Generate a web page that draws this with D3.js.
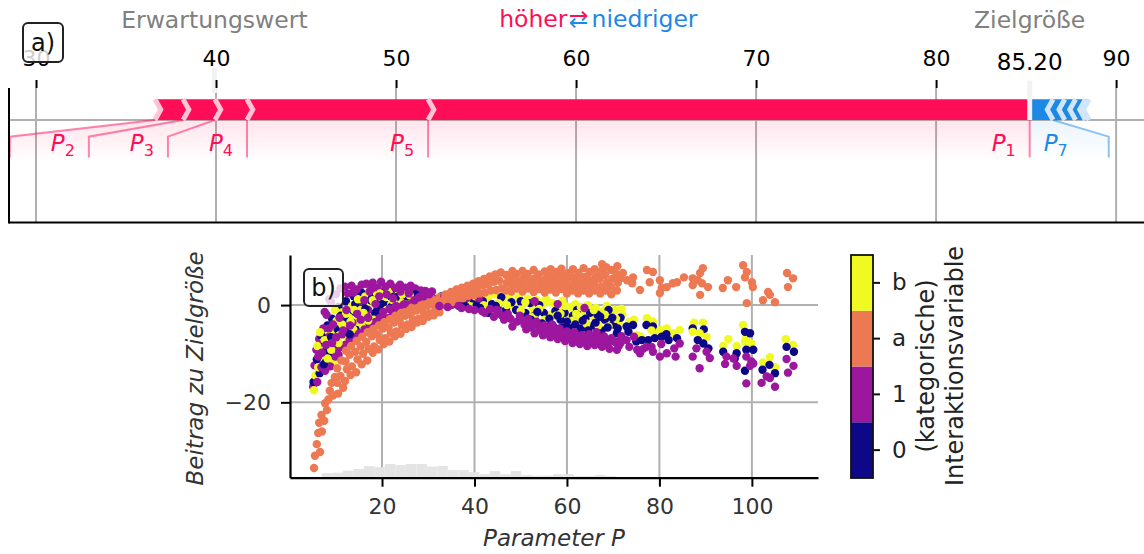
<!DOCTYPE html>
<html>
<head>
<meta charset="utf-8">
<script src="https://cdn.jsdelivr.net/npm/d3@7"></script>
<style>
body { margin: 0; background: #fff; }
svg { display: block; font-family: "DejaVu Sans", sans-serif; }
</style>
</head>
<body>
<svg></svg>
<script>

// ---------- data: panel a (force plot)
let outValue = 85.2
let baseValue = 39.91
let posNames = ['P1', 'P5', 'P4', 'P3', 'P2']
let posEffects = [33.42, 10.06, 1.78, 1.77, 1.56]
let negNames = ['P7', 'P6', 'P8', 'P9', 'P10']
let negEffects = [1.3, 0.65, 0.6, 0.55, 0.2]
let forceTicks = [30, 40, 50, 60, 70, 80, 90]

// ---------- data: panel b (dependence plot)
let depXTicks = [20, 40, 60, 80, 100]
let depYTicks = [-20, 0]
let cbCategories = ['0', '1', 'a', 'b']
let cbColors = ['#0d0887', '#9c179e', '#ed7953', '#f0f921']

let histStart = 7.0
let histStep = 2.27
let histCounts = [9, 10, 14, 17, 23, 21, 27, 25, 27, 27, 22, 23, 15, 15, 11, 7, 13, 7, 13, 5, 4, 4, 7, 7, 3, 3, 5, 3]

// category "0"
let pts0 = [
  [5.2,-15.8],[5.9,-11.2],[6.5,-14.0],[7.0,-8.0],[7.8,-11.8],[8.2,-4.2],[8.6,-10.0],[9.2,-2.8],[9.6,-8.6],[10.4,-5.0],
  [10.6,-0.4],[11.2,-8.6],[11.6,-3.4],[12.2,0.8],[12.6,-5.4],[13.2,-1.6],[13.9,1.8],[14.3,-5.0],[14.8,-0.4],[15.5,2.6],
  [16.0,-2.8],[16.6,0.0],[17.2,-3.6],[17.9,1.6],[18.5,-1.6],[19.1,0.8],[19.8,-2.0],[20.5,2.8],[21.2,0.0],[21.9,1.8],
  [22.5,-1.0],[23.2,3.0],[23.8,-0.2],[24.6,1.6],[25.2,0.2],[26.0,1.0],[26.8,2.8],[27.8,0.8],[28.8,1.8],[30.0,0.9],[30.8,2.6],
  [6.8,-6.2],[7.4,-12.2],[8.0,-9.2],[9.0,-6.6],[11.0,-2.2],[12.0,-3.0],[13.0,-6.0],[14.2,0.2],[15.2,-2.0],[16.4,-0.8],
  [17.6,1.0],[19.0,-1.0],[20.0,0.2],[22.0,-0.4],[23.0,1.6],[25.4,1.8],[27.2,2.2],[29.6,1.2],
  [32.0,0.6],[32.8,1.8],[34.0,0.4],[34.8,1.6],[36.0,0.2],[36.8,1.2],[38.0,-0.2],[39.6,1.4],[40.5,0.0],[41.8,0.8],
  [42.5,-0.8],[43.8,0.2],[45.0,-0.6],[45.8,1.6],[46.8,-1.0],[48.0,0.6],
  [33.4,0.8],[35.6,0.8],[37.6,0.6],[39.0,2.0],[41.2,-0.6],[43.0,-1.6],[44.6,-0.2],
  [49.0,-1.0],[50.0,0.8],[51.0,-1.6],[52.0,0.4],[53.0,-2.2],[54.0,0.0],[55.0,-1.6],[55.8,-3.2],[57.5,-1.2],[58.6,-3.0],
  [59.5,-1.6],[60.5,-4.4],[61.3,-2.2],[62.2,-1.0],[63.0,-4.8],[64.0,-2.8],[65.0,-1.6],[65.8,-4.2],[66.6,-2.0],[67.5,-5.2],
  [68.2,-3.0],[69.0,-1.0],[70.0,-4.0],[70.8,-5.8],[71.6,-2.6],
  [50.6,-2.6],[52.2,-3.0],[53.6,-1.4],[54.6,-3.8],[56.2,-2.8],[57.0,-4.4],[58.0,-2.2],[59.0,-4.6],[60.0,-3.4],[61.8,-4.0],
  [63.4,-3.2],[64.6,-5.2],[66.2,-3.6],[67.2,-2.4],[68.8,-4.6],[69.8,-2.6],[71.0,-4.8],
  [72.9,-4.4],[74.3,-4.1],[73.3,-5.5],[75.0,-7.5],[76.2,-7.2],[77.2,-4.1],[78.6,-4.4],[77.6,-7.2],[79.0,-6.8],[80.5,-6.5],
  [82.0,-7.2],[83.8,-6.8],[81.5,-6.0],[87.2,-4.8],[89.6,-5.0],[88.3,-7.2],[90.6,-8.9],[89.5,-7.9],[93.8,-9.6],[96.7,-9.9],
  [96.3,-11.0],[98.5,-5.5],[99.6,-5.8],[98.8,-9.2],[100.3,-9.2],[98.5,-13.5],[102.3,-13.3],[103.8,-12.3],[105.0,-14.0],
  [107.5,-8.6],[109.1,-9.6]
]

// category "1"
let pts1 = [
  [5.1,-16.8],[5.4,-12.4],[5.8,-9.2],[6.0,-15.8],[6.4,-7.0],[6.9,-12.8],[7.3,-4.8],[7.7,-13.5],[8.0,-2.0],[8.3,-6.6],
  [8.8,-12.6],[9.0,0.6],[9.4,-4.0],[9.9,-10.6],[10.0,2.2],[10.5,-9.0],[10.6,-10.2],[11.0,3.4],[11.4,-6.0],[12.0,-8.2],
  [12.0,3.8],[12.6,2.4],[13.0,-7.2],[13.4,4.0],[13.6,-3.6],[14.0,-6.6],[14.5,3.2],[15.0,-5.9],[15.0,0.8],[15.6,4.2],
  [16.2,-5.0],[16.6,4.4],[17.0,-1.0],[17.3,2.8],[17.6,-4.2],[18.0,4.6],[18.5,-3.5],[19.0,3.6],[19.5,-2.6],[19.8,4.8],
  [20.3,-0.6],[20.8,3.8],[21.0,-2.0],[21.8,4.4],[22.2,-1.2],[22.8,3.6],[23.2,-0.6],[23.9,4.2],[24.4,-0.2],[25.0,3.6],
  [25.6,0.1],[26.2,4.0],[26.5,0.4],[27.2,3.4],[27.6,0.6],[28.4,3.0],[28.6,0.6],[29.4,2.9],[29.8,0.8],[30.8,2.8],
  [31.6,1.2],[7.6,-1.4],[8.6,1.2],
  [6.2,-10.6],[7.0,-9.8],[7.9,-8.2],[8.5,-4.8],[9.2,-7.8],[10.1,-6.6],[10.8,-2.6],[11.6,-5.2],[12.3,-1.0],[13.1,-4.2],
  [13.8,2.6],[14.6,-1.8],[15.4,-3.0],[16.2,1.0],[17.0,-2.6],[17.8,3.4],[18.6,0.2],[19.4,1.8],[20.2,-1.4],[21.0,2.2],
  [21.6,-0.8],[22.4,1.4],[23.0,-0.2],[24.0,2.8],[24.8,0.2],[25.8,2.4],[27.0,1.0],[28.0,1.6],[29.0,1.8],[30.2,2.2],
  [33.5,1.8],[35.0,0.0],[36.2,1.6],[37.2,-0.6],[38.5,1.5],[40.0,-1.0],[41.0,1.4],[42.2,-1.6],[43.4,-0.8],[44.2,-2.4],
  [45.4,-1.8],[46.4,-3.0],[47.2,-1.8],[48.2,-4.4],
  [32.4,-0.2],[34.2,-0.4],[36.6,-0.2],[38.8,-0.8],[41.6,-1.2],[44.8,-1.0],[46.0,-2.2],[47.8,-2.8],
  [49.2,-3.4],[49.8,-2.2],[50.8,-4.0],[51.6,-2.8],[52.4,-4.6],[53.4,-3.4],[54.2,-5.2],[55.0,-4.2],[56.0,-5.4],[56.8,-4.0],
  [57.6,-6.0],[58.4,-4.8],[59.2,-6.4],[60.0,-5.4],[60.8,-6.8],[61.6,-5.6],[62.4,-7.0],[63.2,-6.2],[64.0,-7.6],[64.8,-6.0],
  [65.6,-7.4],[66.4,-5.6],[67.2,-7.8],[68.0,-6.4],[68.8,-8.2],[69.6,-6.8],[70.4,-7.6],[71.2,-8.4],[71.8,-6.4],
  [50.2,-3.0],[51.2,-5.0],[52.0,-3.6],[53.0,-5.8],[53.8,-4.2],[54.8,-6.2],[55.6,-4.8],[56.4,-6.6],[57.2,-5.0],[58.0,-7.0],
  [58.8,-5.6],[59.6,-7.4],[60.4,-6.0],[61.2,-7.8],[62.0,-6.2],[62.8,-8.0],[63.6,-6.8],[64.4,-8.4],[65.2,-6.6],[66.0,-8.2],
  [66.8,-6.6],[67.6,-8.6],[68.4,-7.2],[69.2,-9.0],[70.0,-7.4],[70.8,-9.2],[71.6,-7.8],
  [53.0,0.8],[58.0,0.2],[63.8,-0.6],
  [71.5,-7.2],[72.9,-7.2],[73.5,-8.6],[74.5,-6.5],[75.2,-9.2],[76.5,-9.0],[75.8,-9.9],[78.3,-8.6],[78.6,-9.6],[80.1,-10.6],
  [77.2,-8.6],[80.4,-8.0],[81.6,-9.9],[83.2,-8.9],[83.5,-10.6],[84.4,-7.9],[87.2,-10.6],[88.7,-13.0],[90.9,-10.9],[90.2,-9.6],
  [88.0,-8.9],[94.5,-10.6],[94.2,-12.1],[96.7,-12.5],[96.0,-11.0],[98.8,-10.6],[99.9,-11.6],[100.3,-12.0],[98.8,-16.1],
  [99.6,-12.5],[103.2,-14.7],[105.0,-16.8],[102.1,-16.0],[103.9,-15.0],[107.5,-11.1],[109.0,-12.5],[107.8,-13.9]
]

// category "a"
let ptsA = [
  [5.3,-33.5],[5.5,-31.0],[6.6,-30.2],[5.9,-28.6],[6.2,-26.3],[7.0,-26.0],[6.4,-24.2],[6.9,-22.6],[7.5,-23.8],[7.7,-20.2],
  [8.1,-21.6],[8.4,-19.4],[8.7,-17.6],[9.4,-18.6],[9.1,-16.0],[10.5,-18.2],[9.8,-14.8],[11.6,-17.0],[10.3,-13.0],[10.3,-16.0],
  [11.0,-14.6],[11.2,-11.4],
  [12.2,-9.4],[12.1,-11.6],[12.4,-13.2],[12.0,-15.6],
  [13.3,-8.4],[13.0,-10.2],[13.5,-12.6],[13.2,-14.4],
  [14.5,-7.4],[14.2,-9.6],[14.7,-11.2],[14.4,-13.8],
  [15.7,-6.5],[15.4,-8.5],[15.9,-10.0],[15.6,-12.2],
  [16.9,-5.6],[16.6,-7.6],[17.1,-9.0],[16.8,-11.4],
  [18.1,-4.9],[17.8,-6.4],[18.3,-8.5],[18.0,-9.8],
  [19.3,-4.2],[19.0,-6.0],[19.5,-7.2],[19.2,-9.1],
  [20.5,-3.5],[20.2,-4.8],[20.7,-6.8],[20.4,-8.0],
  [21.7,-2.9],[21.4,-4.6],[21.9,-5.7],[21.6,-7.5],
  [22.9,-2.2],[22.6,-3.6],[23.1,-5.4],[22.8,-6.4],
  [24.1,-1.6],[23.8,-3.2],[24.3,-4.2],[24.0,-5.9],
  [25.3,-1.0],[25.0,-2.2],[25.5,-4.0],[25.2,-4.9],
  [26.5,-0.5],[26.2,-2.0],[26.7,-3.0],[26.4,-4.5],
  [27.7,0.0],[27.4,-1.1],[27.9,-2.8],[27.6,-3.6],
  [28.9,0.4],[28.6,-1.0],[29.1,-1.8],[28.8,-3.3],
  [30.1,0.8],[29.8,-0.2],[30.3,-1.7],[30.0,-2.4],
  [31.3,1.0],[31.0,0.2],[31.5,-1.0],[31.2,-2.1],
  [32.5,1.6],[32.2,0.5],[32.7,-0.2],[32.4,-1.5],
  [33.7,2.2],[33.4,1.1],[33.9,0.3],
  [34.9,2.7],[34.6,1.8],[35.1,0.6],
  [36.1,3.2],[35.8,2.0],[36.3,1.3],
  [37.3,3.6],[37.0,2.6],[37.5,1.4],
  [38.5,4.0],[38.2,2.8],[38.7,1.9],
  [39.7,4.4],[39.4,3.3],[39.9,2.0],
  [40.9,4.9],[40.6,3.5],[41.1,2.4],
  [42.1,5.4],[41.8,4.1],[42.3,2.6],
  [43.3,5.9],[43.0,4.3],[43.5,3.0],
  [44.5,6.3],[44.2,4.8],[44.7,3.1],
  [45.7,6.7],[45.4,5.0],[45.9,3.4],
  [46.8,3.0],[47.0,4.6],[46.9,6.2],
  [48.0,2.8],[48.1,4.2],[47.9,5.6],[48.2,7.0],
  [49.2,3.4],[49.4,4.9],[49.1,6.4],
  [50.4,2.8],[50.3,4.2],[50.6,5.6],[50.4,7.0],
  [51.6,3.4],[51.8,4.9],[51.5,6.4],
  [52.8,2.7],[52.7,4.1],[53.0,5.5],[52.8,7.2],
  [54.0,3.3],[54.2,4.8],[53.9,6.3],
  [55.2,2.6],[55.1,4.0],[55.4,5.4],[55.2,6.9],
  [56.4,3.2],[56.6,4.6],[56.3,6.0],[56.5,7.4],
  [57.6,2.6],[57.8,4.0],[57.5,5.4],[57.7,6.8],
  [58.8,3.3],[58.7,4.7],[59.0,6.1],[58.8,7.5],
  [60.0,2.4],[60.1,3.8],[59.9,5.2],[60.2,6.6],
  [61.2,3.0],[61.4,4.4],[61.1,5.8],[61.3,7.4],
  [62.4,2.4],[62.6,3.8],[62.3,5.2],[62.5,6.6],
  [63.6,3.0],[63.5,4.4],[63.8,5.8],[63.6,7.6],
  [64.8,2.4],[65.0,3.8],[64.7,5.2],[64.9,6.8],
  [66.0,3.0],[65.9,4.4],[66.2,5.8],[66.0,7.4],
  [67.2,2.4],[67.4,3.8],[67.1,5.4],[67.3,6.8],[67.6,8.4],
  [68.4,3.0],[68.6,4.6],[68.3,6.2],[68.5,7.8],
  [69.6,2.2],[69.5,3.8],[69.8,5.4],[69.6,7.2],
  [70.8,3.0],[71.0,4.6],[70.7,6.4],[70.9,8.0],
  [71.5,5.5],[72.1,6.6],[73.0,5.1],[74.1,4.5],[74.3,5.7],[75.8,3.1],[77.3,7.2],[78.6,6.8],[77.9,4.7],[80.1,5.1],
  [80.1,2.5],[80.5,3.5],[81.6,3.7],[82.9,4.5],[83.8,4.7],[85.3,5.7],[87.2,5.5],[87.2,4.1],[88.3,5.1],[88.8,6.6],
  [89.4,7.6],[88.8,2.1],[89.2,4.5],[90.5,3.7],[93.7,3.5],[94.8,5.1],[96.6,3.7],[98.1,8.2],[98.9,6.8],[98.5,5.7],
  [100.0,4.7],[100.2,3.7],[98.9,0.4],[102.4,1.0],[103.5,2.7],[103.9,2.1],[105.0,0.6],[107.6,6.6],[108.9,5.5],[107.8,3.7]
]

// category "b"
let ptsB = [
  [5.3,-17.5],[5.6,-14.5],[6.2,-12.8],[6.8,-10.5],[7.5,-9.2],[7.2,-6.5],[8.4,-8.8],[8.9,-5.8],[9.5,-11.5],[9.8,-7.4],
  [10.2,-3.2],[10.8,-6.2],[11.3,-1.5],[11.8,-4.8],[12.4,-6.6],[12.9,-2.6],[13.5,-0.2],[13.8,-5.0],[14.6,-3.4],[15.2,-1.0],
  [15.8,-4.0],[16.4,1.8],[16.9,-2.2],[17.5,0.4],[18.2,-3.0],[18.8,2.6],[19.3,-0.8],[20.1,1.2],[20.8,-1.6],[21.5,3.1],
  [22.0,0.2],[22.7,-0.8],[23.4,2.0],[24.1,0.6],[24.9,3.2],[25.6,0.9],[26.5,2.2],[27.3,1.2],[28.4,2.4],[29.5,1.5],[31.0,1.9],
  [6.0,-8.4],[6.6,-5.6],[7.6,-7.2],[8.2,-11.0],[9.0,-9.2],[9.8,-1.0],[10.6,-7.8],[11.4,-4.0],[12.2,-1.8],[13.2,-3.4],
  [14.0,-1.0],[14.8,1.2],[16.0,-1.6],[17.0,-3.2],[18.0,1.0],[19.6,2.4],[21.0,-1.0],[22.4,1.0],[24.4,2.2],[26.0,2.0],
  [33.0,1.2],[35.5,1.6],[37.5,2.4],[39.0,0.8],[41.5,2.0],[43.0,1.4],[44.5,2.2],[46.0,0.8],[47.5,1.8],[48.5,-0.4],
  [34.0,1.8],[36.4,2.2],[38.2,1.2],[40.2,1.8],[42.0,0.0],[45.2,0.4],[47.0,0.0],
  [49.5,1.6],[50.5,0.2],[51.5,1.3],[52.5,-1.0],[53.5,1.0],[54.5,-0.2],[55.5,1.2],[56.5,-2.0],[57.0,0.4],[58.2,-0.8],
  [59.0,0.9],[60.0,-2.6],[60.8,-0.4],[61.8,0.2],[62.6,-3.0],[63.5,-1.2],[64.5,0.0],[65.4,-2.2],[66.2,-0.6],[67.0,-3.4],
  [67.8,-1.3],[68.6,-0.2],[69.5,-2.6],[70.3,-1.0],[71.2,-3.6],[72.0,-2.0],
  [50.0,-1.2],[51.0,0.6],[52.8,-2.4],[54.0,-0.8],[55.2,-3.0],[56.0,0.6],[57.6,-2.2],[58.6,-1.8],[59.6,-0.2],[61.2,-3.2],
  [62.0,-1.8],[63.0,-0.4],[64.2,-3.8],[65.8,-1.0],[66.8,-4.2],[68.2,-2.0],[69.0,-4.4],[70.6,-2.8],[71.8,-0.8],
  [73.5,-3.4],[74.5,-3.0],[75.2,-6.2],[76.0,-6.5],[77.3,-2.7],[78.6,-3.4],[79.4,-5.8],[78.3,-5.2],[80.2,-5.1],[81.6,-4.8],
  [83.0,-5.8],[84.4,-5.1],[87.5,-3.6],[89.4,-3.6],[87.2,-5.5],[88.7,-5.8],[90.2,-6.5],[93.8,-8.4],[94.9,-7.0],[96.7,-8.4],
  [98.1,-4.1],[98.8,-6.8],[99.9,-7.9],[98.5,-7.5],[102.4,-11.8],[103.9,-10.7],[105.0,-12.8],[107.3,-7.0],[108.9,-8.2]
]

// ---------- setup
let width = 1144
let height = 554
let red = '#ff0d57'
let redLight = '#ffc3d5'
let blue = '#1e88e5'
let blueLight = '#d1e6fa'
let gridColor = '#b0b0b0'

let svg = d3.select('svg').attr('width', width).attr('height', height)
let defs = svg.append('defs')

// ================= panel a =================
let xF = d3.scaleLinear().domain([28.5, 91.55]).range([9, 1144])
let yF = d3.scaleLinear().domain([-0.493, 0.154]).range([222.5, 88])
let barW = 0.1
let sepW = 0.32
let minPerc = 0.02
let offPx = 14
let padPx = 27
let totalEffect = d3.sum(posEffects) + d3.sum(negEffects)

let gA = svg.append('g')
let gGrid = gA.append('g')
let gShade = gA.append('g')
let gBars = gA.append('g')
let gLines = gA.append('g')
let gMarks = gA.append('g')
let gAxis = gA.append('g')
let gLabels = gA.append('g')

gGrid.selectAll('line').data(forceTicks).enter().append('line')
  .attr('x1', d => xF(d)).attr('x2', d => xF(d))
  .attr('y1', yF.range()[1]).attr('y2', yF.range()[0])
  .attr('stroke', gridColor).attr('stroke-width', 2)
gGrid.append('line')
  .attr('x1', xF.range()[0]).attr('x2', xF.range()[1])
  .attr('y1', yF(0)).attr('y2', yF(0))
  .attr('stroke', gridColor).attr('stroke-width', 2)

// segments
let posSegs = []
let pre = outValue
posEffects.forEach((e, i) => {
  posSegs.push({ name: posNames[i], left: pre - e, right: pre, i: i })
  pre -= e
})
let negSegs = []
pre = outValue
negEffects.forEach((e, i) => {
  negSegs.push({ name: negNames[i], left: pre, right: pre + e, i: i })
  pre += e
})

let pt = p => xF(p[0]) + ',' + yF(p[1])

let drawBars = (segs, type) => {
  let ind = type === 'pos' ? sepW : -sepW
  let colors = type === 'pos' ? [red, redLight] : [blue, blueLight]
  segs.forEach(s => {
    let l = s.left, r = s.right, poly
    if (s.i === 0) {
      poly = type === 'pos'
        ? [[l, 0], [r, 0], [r, barW], [l, barW], [l + ind, barW / 2]]
        : [[r, 0], [l, 0], [l, barW], [r, barW], [r + ind, barW / 2]]
    } else {
      poly = [[l, 0], [r, 0], [r + ind, barW / 2], [r, barW], [l, barW], [l + ind, barW / 2]]
    }
    gBars.append('polygon').attr('points', poly.map(pt).join(' ')).attr('fill', colors[0])
  })
  segs.forEach(s => {
    let sp = type === 'pos' ? s.left : s.right
    gBars.append('polyline')
      .attr('points', [[sp, 0], [sp + ind, barW / 2], [sp, barW]].map(pt).join(' '))
      .attr('fill', 'none').attr('stroke', colors[1]).attr('stroke-width', 5)
  })
}
drawBars(posSegs, 'pos')
drawBars(negSegs, 'neg')

let gradient = (id, color, op) => {
  let g = defs.append('linearGradient').attr('id', id)
    .attr('gradientUnits', 'userSpaceOnUse')
    .attr('x1', 0).attr('x2', 0).attr('y1', yF(0)).attr('y2', yF(-0.2))
  g.append('stop').attr('offset', 0).attr('stop-color', color).attr('stop-opacity', op)
  g.append('stop').attr('offset', 1).attr('stop-color', color).attr('stop-opacity', 0)
}
gradient('shadeRed', red, 0.11)
gradient('shadeBlue', blue, 0.09)

let drawLabels = (segs, type) => {
  let color = type === 'pos' ? red : blue
  let sign = type === 'pos' ? 1 : -1
  let outX = xF(outValue)
  let startText = outX
  let preVal = outValue
  let boxEnd = outX
  let lastX = outX
  let line = pts => gLines.append('polyline')
    .attr('points', pts.map(p => p[0] + ',' + p[1]).join(' '))
    .attr('fill', 'none').attr('stroke', color).attr('stroke-opacity', 0.5).attr('stroke-width', 2)
  if (type === 'pos') line([[outX, yF(0)], [outX, yF(-0.18)]])
  for (let s of segs) {
    let v = type === 'pos' ? s.left : s.right
    if (Math.abs(v - preVal) / totalEffect < minPerc) break
    let vx = xF(v)
    let t = gLabels.append('text')
      .attr('x', startText - sign * offPx).attr('y', yF(-0.15))
      .attr('text-anchor', type === 'pos' ? 'end' : 'start')
      .attr('fill', color).style('font-size', '23px')
    t.append('tspan').style('font-style', 'italic').text(s.name[0])
    t.append('tspan').attr('dy', 5).style('font-size', '16px').text(s.name.slice(1))
    let bb = t.node().getBBox()
    let boxEndT = type === 'pos' ? bb.x - padPx : bb.x + bb.width + padPx
    if (sign * boxEndT > sign * vx) {
      line([[vx, yF(0)], [vx, yF(-0.18)]])
      startText = vx
      boxEnd = vx
    } else {
      boxEnd = boxEndT - sign * offPx
      line([[vx, yF(0)], [boxEnd, yF(-0.08)], [boxEnd, yF(-0.18)]])
      startText = boxEnd
    }
    preVal = v
    lastX = vx
  }
  let path = [[outX, yF(0)], [lastX, yF(0)], [boxEnd, yF(-0.08)], [boxEnd, yF(-0.2)], [outX, yF(-0.2)]]
  gShade.append('polygon').attr('points', path.map(p => p[0] + ',' + p[1]).join(' '))
    .attr('fill', type === 'pos' ? 'url(#shadeRed)' : 'url(#shadeBlue)')
}
drawLabels(posSegs, 'pos')
drawLabels(negSegs, 'neg')

// base value and output markers
gMarks.append('line')
  .attr('x1', xF(baseValue)).attr('x2', xF(baseValue))
  .attr('y1', yF(0.13)).attr('y2', yF(0.25))
  .attr('stroke', '#f2f2f2').attr('stroke-width', 5)
gMarks.append('line')
  .attr('x1', xF(outValue)).attr('x2', xF(outValue))
  .attr('y1', yF(0)).attr('y2', yF(0.24))
  .attr('stroke', '#f2f2f2').attr('stroke-width', 5)

// top axis
let axisTop = d3.axisTop(xF).tickValues(forceTicks).tickSize(8).tickPadding(14).tickSizeOuter(0).tickFormat(d3.format('d'))
gAxis.attr('transform', 'translate(0,' + yF.range()[1] + ')').call(axisTop)
gAxis.select('.domain').remove()
gAxis.selectAll('line').attr('stroke', '#000').attr('stroke-width', 2)
gAxis.selectAll('text').attr('fill', '#000').style('font-size', '22px').style('font-family', '"DejaVu Sans", sans-serif')

// spines
gA.append('line').attr('x1', xF.range()[0]).attr('x2', xF.range()[0])
  .attr('y1', yF.range()[1]).attr('y2', yF.range()[0] + 1)
  .attr('stroke', '#000').attr('stroke-width', 2)
gA.append('line').attr('x1', xF.range()[0]).attr('x2', xF.range()[1])
  .attr('y1', yF.range()[0]).attr('y2', yF.range()[0])
  .attr('stroke', '#000').attr('stroke-width', 2)

// output value text
let outText = gA.append('text').attr('x', xF(outValue)).attr('y', 69.5)
  .attr('text-anchor', 'middle').style('font-size', '23px').attr('fill', '#000')
  .text(d3.format('.2f')(outValue))
let ob = outText.node().getBBox()
gA.insert('rect', () => outText.node())
  .attr('x', ob.x - 4).attr('y', ob.y - 2).attr('width', ob.width + 8).attr('height', ob.height + 8)
  .attr('fill', '#fff')

gA.append('text').attr('x', xF(outValue)).attr('y', 28).attr('text-anchor', 'middle')
  .style('font-size', '23.5px').attr('fill', '#808080').text('Zielgröße')
gA.append('text').attr('x', xF(baseValue)).attr('y', 28).attr('text-anchor', 'middle')
  .style('font-size', '23.5px').attr('fill', '#808080').text('Erwartungswert')

// höher ⇄ niedriger
let cx = (xF.range()[0] + xF.range()[1]) / 2 + 2
let arrowGrad = defs.append('linearGradient').attr('id', 'arrowGrad')
  .attr('gradientUnits', 'userSpaceOnUse').attr('x1', 0).attr('x2', 0).attr('y1', 0).attr('y2', 35)
arrowGrad.append('stop').attr('offset', 0.495).attr('stop-color', red)
arrowGrad.append('stop').attr('offset', 0.495).attr('stop-color', blue)
gA.append('text').attr('x', cx - 11).attr('y', 27).attr('text-anchor', 'end')
  .style('font-size', '23.5px').attr('fill', red).text('höher')
gA.append('text').attr('x', cx).attr('y', 27).attr('text-anchor', 'middle')
  .style('font-size', '23.5px').attr('fill', 'url(#arrowGrad)').text('⇄')
gA.append('text').attr('x', cx + 13).attr('y', 27).attr('text-anchor', 'start')
  .style('font-size', '23.5px').attr('fill', blue).text('niedriger')

// panel tag box
let drawTag = (g, x, y, w, h, label) => {
  g.append('rect').attr('x', x).attr('y', y).attr('width', w).attr('height', h).attr('rx', 5)
    .attr('fill', '#fff').attr('fill-opacity', 0.8).attr('stroke', '#222').attr('stroke-width', 2)
  g.append('text').attr('x', x + w / 2).attr('y', y + h / 2 + 8).attr('text-anchor', 'middle')
    .style('font-size', '24px').attr('fill', '#111').text(label)
}
drawTag(gA, 23, 23, 40, 39, 'a)')

// ================= panel b =================
let xD = d3.scaleLinear().domain([0.1, 114.3]).range([290, 818])
let yD = d3.scaleLinear().domain([-35.5, 10.3]).range([477.7, 255])
let color = d3.scaleOrdinal().domain(cbCategories).range(cbColors)

let gB = svg.append('g')

gB.selectAll('line.vg').data(depXTicks).enter().append('line').attr('class', 'vg')
  .attr('x1', d => xD(d)).attr('x2', d => xD(d)).attr('y1', yD.range()[1]).attr('y2', yD.range()[0])
  .attr('stroke', gridColor).attr('stroke-width', 2)
gB.selectAll('line.hg').data(depYTicks).enter().append('line').attr('class', 'hg')
  .attr('x1', xD.range()[0]).attr('x2', xD.range()[1]).attr('y1', d => yD(d)).attr('y2', d => yD(d))
  .attr('stroke', gridColor).attr('stroke-width', 2)

// histogram
let histH = d3.scaleLinear().domain([0, d3.max(histCounts)]).range([0, 13.7])
gB.selectAll('rect.hist').data(histCounts).enter().append('rect').attr('class', 'hist')
  .attr('x', (d, i) => xD(histStart + i * histStep))
  .attr('width', xD(histStart + histStep) - xD(histStart))
  .attr('y', d => yD.range()[0] - histH(d))
  .attr('height', d => histH(d))
  .attr('fill', '#e4e4e4')

// points, interleaved so no category sits fully on top
let allPts = []
let groups = [[pts1, '1'], [ptsA, 'a'], [pts0, '0'], [ptsB, 'b']]
let maxLen = d3.max(groups, g => g[0].length)
for (let i = 0; i < maxLen; i++) {
  groups.forEach(g => { if (i < g[0].length) allPts.push({ x: g[0][i][0], y: g[0][i][1], c: g[1] }) })
}
gB.selectAll('circle').data(allPts).enter().append('circle')
  .attr('cx', d => xD(d.x)).attr('cy', d => yD(d.y)).attr('r', 4.2)
  .attr('fill', d => color(d.c))

// axes
let xAxis = d3.axisBottom(xD).tickValues(depXTicks).tickSize(9).tickPadding(12).tickSizeOuter(0)
let yAxis = d3.axisLeft(yD).tickValues(depYTicks).tickSize(9).tickPadding(10).tickSizeOuter(0)
let gx = gB.append('g').attr('transform', 'translate(0,' + yD.range()[0] + ')').call(xAxis)
let gy = gB.append('g').attr('transform', 'translate(' + xD.range()[0] + ',0)').call(yAxis)
;[gx, gy].forEach(g => {
  g.select('.domain').attr('stroke', '#000').attr('stroke-width', 2.2)
  g.selectAll('.tick line').attr('stroke', '#000').attr('stroke-width', 2)
  g.selectAll('text').attr('fill', '#333').style('font-size', '22px').style('font-family', '"DejaVu Sans", sans-serif')
})

gB.append('text').attr('x', (xD.range()[0] + xD.range()[1]) / 2).attr('y', 546)
  .attr('text-anchor', 'middle').style('font-size', '23px').style('font-style', 'italic')
  .attr('fill', '#333').text('Parameter P')
gB.append('text').attr('transform', 'translate(203,' + ((yD.range()[0] + yD.range()[1]) / 2 + 2) + ') rotate(-90)')
  .attr('text-anchor', 'middle').style('font-size', '23px').style('font-style', 'italic')
  .attr('fill', '#333').text('Beitrag zu Zielgröße')

drawTag(gB, 304, 269, 39, 37, 'b)')

// colorbar
let cbY = d3.scaleBand().domain(cbCategories.slice().reverse()).range([255, 478])
let cbX = 851
let cbW = 22
gB.selectAll('rect.cb').data(cbCategories).enter().append('rect').attr('class', 'cb')
  .attr('x', cbX).attr('y', d => cbY(d)).attr('width', cbW).attr('height', cbY.bandwidth())
  .attr('fill', d => color(d))
gB.append('rect').attr('x', cbX).attr('y', 255).attr('width', cbW).attr('height', 223)
  .attr('fill', 'none').attr('stroke', '#111').attr('stroke-width', 1.8)
let cbAxis = d3.axisRight(cbY).tickSize(7).tickPadding(12).tickSizeOuter(0)
let gcb = gB.append('g').attr('transform', 'translate(' + (cbX + cbW) + ',0)').call(cbAxis)
gcb.select('.domain').remove()
gcb.selectAll('.tick line').attr('stroke', '#111').attr('stroke-width', 2)
gcb.selectAll('text').attr('fill', '#222').style('font-size', '23px').style('font-family', '"DejaVu Sans", sans-serif')

let cbLabel = gB.append('text').attr('transform', 'translate(934,366) rotate(-90)')
  .attr('text-anchor', 'middle').style('font-size', '24px').attr('fill', '#222')
cbLabel.append('tspan').attr('x', 0).attr('dy', 0).text('(kategorische)')
cbLabel.append('tspan').attr('x', 0).attr('dy', 29).text('Interaktionsvariable')

</script>
</body>
</html>
